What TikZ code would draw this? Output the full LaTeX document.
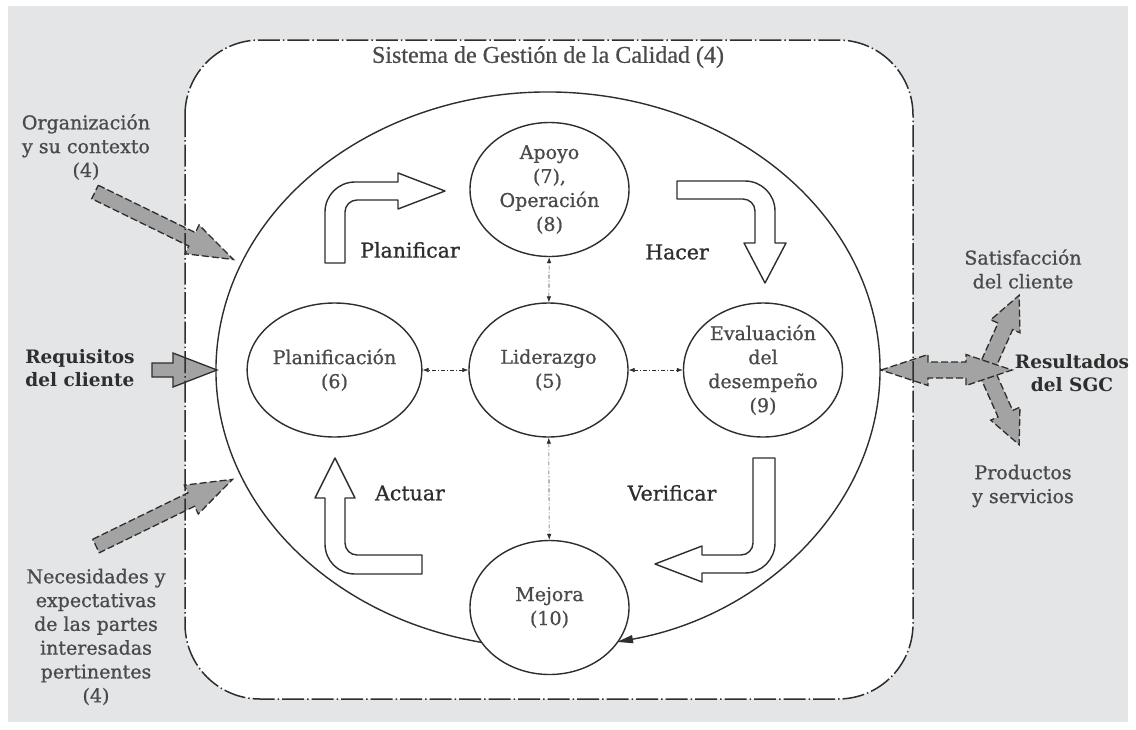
\documentclass[tikz,border=0pt]{standalone}
\usepackage{fontspec}
\setmainfont{DejaVu Serif}
\newfontfamily\semifont[FakeBold=0.9]{DejaVu Serif}
\newfontfamily\titlefont[FakeBold=0.6]{Liberation Serif}
\usetikzlibrary{arrows.meta,shapes.geometric,calc}
\definecolor{bg}{HTML}{E4E5E7}
\definecolor{txt}{HTML}{4A4A4A}
\definecolor{dark}{HTML}{2E2E2E}
\definecolor{blockgray}{HTML}{A3A3A3}
\begin{document}
\begin{tikzpicture}[x=1pt,y=-1pt,
  proc/.style={ellipse, draw=dark, line width=1.4pt, fill=white, minimum width=159pt, minimum height=134pt, inner sep=0pt, align=center, text=txt, font=\semifont\fontsize{19}{24}\selectfont},
  link/.style={line width=0.6pt, draw=dark, dash pattern=on 4pt off 2pt on 1pt off 2pt, {Latex[length=6pt,width=4.5pt]}-{Latex[length=6pt,width=4.5pt]}},
  hollow/.style={draw=dark, line width=1.4pt, fill=white, line join=round},
  block/.style={fill=blockgray, draw=dark, line width=1.3pt},
  dblock/.style={block, dash pattern=on 7pt off 3pt},
  frame/.style={draw=dark, line width=1.5pt, dash pattern=on 22pt off 3pt on 1.5pt off 3pt},
  lbl/.style={text=dark, font=\semifont\fontsize{20.5}{24}\selectfont},
  side/.style={text=txt, align=center, font=\semifont\fontsize{19}{23.8}\selectfont},
  sidebold/.style={text=dark, align=center, font=\bfseries\fontsize{18.5}{23.5}\selectfont},
]
\useasboundingbox (0,0) rectangle (1136,729);
\fill[white] (0,0) rectangle (1136,729);
\fill[bg] (8,6) rectangle (1128,722);
% system frame fill
\fill[white, rounded corners=75pt] (185,40) rectangle (913,699);

% input block arrows
\begin{scope}[shift={(95,192)}, rotate=-26]
  \draw[dblock] (0,-7.5) -- (108,-7.5) -- (108,-16) -- (154,0) -- (108,16) -- (108,7.5) -- (0,7.5) -- cycle;
\end{scope}
\begin{scope}[shift={(96,546)}, rotate=26]
  \draw[dblock] (0,-7.5) -- (106,-7.5) -- (106,-16) -- (152,0) -- (106,16) -- (106,7.5) -- (0,7.5) -- cycle;
\end{scope}
\draw[block] (152,363) -- (173,363) -- (173,353) -- (217,370) -- (173,387) -- (173,377) -- (152,377) -- cycle;

% output block arrows
\begin{scope}[shift={(985,372)}, rotate=66]
  \draw[dblock] (0,-8) -- (50,-8) -- (50,-16) -- (84,0) -- (50,16) -- (50,8) -- (0,8) -- cycle;
\end{scope}
\begin{scope}[shift={(985,368)}, rotate=-66]
  \draw[dblock] (0,-8) -- (50,-8) -- (50,-16) -- (84,0) -- (50,16) -- (50,8) -- (0,8) -- cycle;
\end{scope}
\draw[dblock] (881,370) -- (928,354.5) -- (928,362) -- (966,362) -- (966,354.5) -- (1012,370) -- (966,385.5) -- (966,378) -- (928,378) -- (928,385.5) -- cycle;

% frame outline
\draw[frame, rounded corners=75pt] (185,40) rectangle (913,699);
\node[text=txt, font=\titlefont\fontsize{24}{28}\selectfont] (title) at (548,57) {Sistema de Gestión de la Calidad (4)};

% big cycle
\draw[line width=1.4pt, draw=dark, -{Triangle[length=16pt,width=8pt]}]
  ($(548,370)+(258.5:332pt and 278pt)$) arc[start angle=258.5, end angle=-78, x radius=332pt, y radius=278pt];

% hollow PDCA arrows
\draw[hollow] (325,263) -- (325,212) .. controls (325,195.4) and (338.4,182) .. (355,182) -- (398,182) -- (398,173) -- (445,191) -- (398,209) -- (398,200) -- (357,200) .. controls (350.4,200) and (345,205.4) .. (345,212) -- (345,263) -- cycle;
\draw[hollow] (677,181) -- (745,181) .. controls (761.6,181) and (775,194.4) .. (775,211) -- (775,243) -- (786,243) -- (765,283) -- (744,243) -- (755,243) -- (755,211) .. controls (755,204.4) and (749.6,199) .. (743,199) -- (677,199) -- cycle;
\draw[hollow] (753,458) -- (775,458) -- (775,543) .. controls (775,559.6) and (761.6,573) .. (745,573) -- (702,573) -- (702,582) -- (655,564) -- (702,546) -- (702,555) -- (741,555) .. controls (747.6,555) and (753,549.6) .. (753,543) -- cycle;
\draw[hollow] (325,498) -- (315,498) -- (335,458) -- (355,498) -- (345,498) -- (345,543) .. controls (345,549.6) and (350.4,555) .. (357,555) -- (422,555) -- (422,574) -- (355,574) .. controls (338.4,574) and (325,560.6) .. (325,544) -- cycle;

% process ellipses
\node[proc] (apoyo) at (549.5,189.5) {Apoyo\\(7),\\Operación\\(8)};
\node[proc] (plan) at (334.5,370) {Planificación\\(6)};
\node[proc] (lid) at (548.5,370) {Liderazgo\\(5)};
\node[proc] (eval) at (763,370) {Evaluación\\del\\desempeño\\(9)};
\node[proc] (mej) at (549.5,607.5) {Mejora\\(10)};

\draw[link] (lid) -- (apoyo);
\draw[link] (lid) -- (plan);
\draw[link] (lid) -- (eval);
\draw[link] (lid) -- (mej);

% PDCA labels
\node[lbl] (tplan) at (410,250) {Planificar};
\node[lbl] (thacer) at (677,252) {Hacer};
\node[lbl] (tact) at (410,493) {Actuar};
\node[lbl] (tver) at (672,493) {Verificar};

% side labels
\node[side] (org) at (86,147) {Organización\\y su contexto\\(4)};
\node[sidebold] (req) at (80,368) {Requisitos\\del cliente};
\node[side] (nec) at (96,637) {Necesidades y\\expectativas\\de las partes\\interesadas\\pertinentes\\(4)};
\node[side] (sat) at (1023,269) {Satisfacción\\del cliente};
\node[sidebold] (res) at (1072,373) {Resultados\\del SGC};
\node[side] (prod) at (1023,486) {Productos\\y servicios};
\end{tikzpicture}
\end{document}
